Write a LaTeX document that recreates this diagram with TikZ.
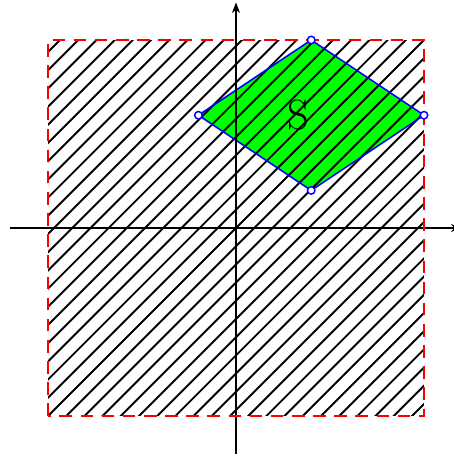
\documentclass[tikz,border=0pt]{standalone}
\usetikzlibrary{arrows.meta}
\tikzset{
  hatch/.style={black, line width=1.45pt},
  region/.style={red, line width=1.9pt, dash pattern=on 9.5pt off 6.5pt},
  border/.style={blue, line width=1.2pt, line join=round},
  vertex/.style={blue, fill=white, line width=1.1pt},
  axis/.style={black, line width=1.8pt, -{Stealth[length=8pt,width=6pt,inset=2.4pt]}},
}
\begin{document}
\begin{tikzpicture}[x=1cm,y=1cm]
\useasboundingbox (-6.277,-6.064) rectangle (5.798,6.064);
\coordinate (A) at (2,5);
\coordinate (B) at (5,3);
\coordinate (C) at (2,1);
\coordinate (D) at (-1,3);
\coordinate (xl) at (-6,0);
\coordinate (xr) at (6,0);
\coordinate (yb) at (0,-6);
\coordinate (yt) at (0,6);
\fill[green] (A) -- (B) -- (C) -- (D) -- cycle;
\begin{scope}
  \clip (-5,-5) rectangle (5,5);
  \foreach \k in {-22,...,22}
    \draw[hatch] (-6,-6+\k*0.484) -- (6,6+\k*0.484);
\end{scope}
\draw[border] (A) -- (B) -- (C) -- (D) -- cycle;
\draw[axis] (xl) -- (xr);
\draw[axis] (yb) -- (yt);
\draw[region] (-5,-5) rectangle (5,5);
\foreach \p in {A,B,C,D}
  \draw[vertex] (\p) circle (0.1);
\node (S) at (1.65,3.0) {\fontsize{32}{34}\selectfont S};
\end{tikzpicture}
\end{document}
